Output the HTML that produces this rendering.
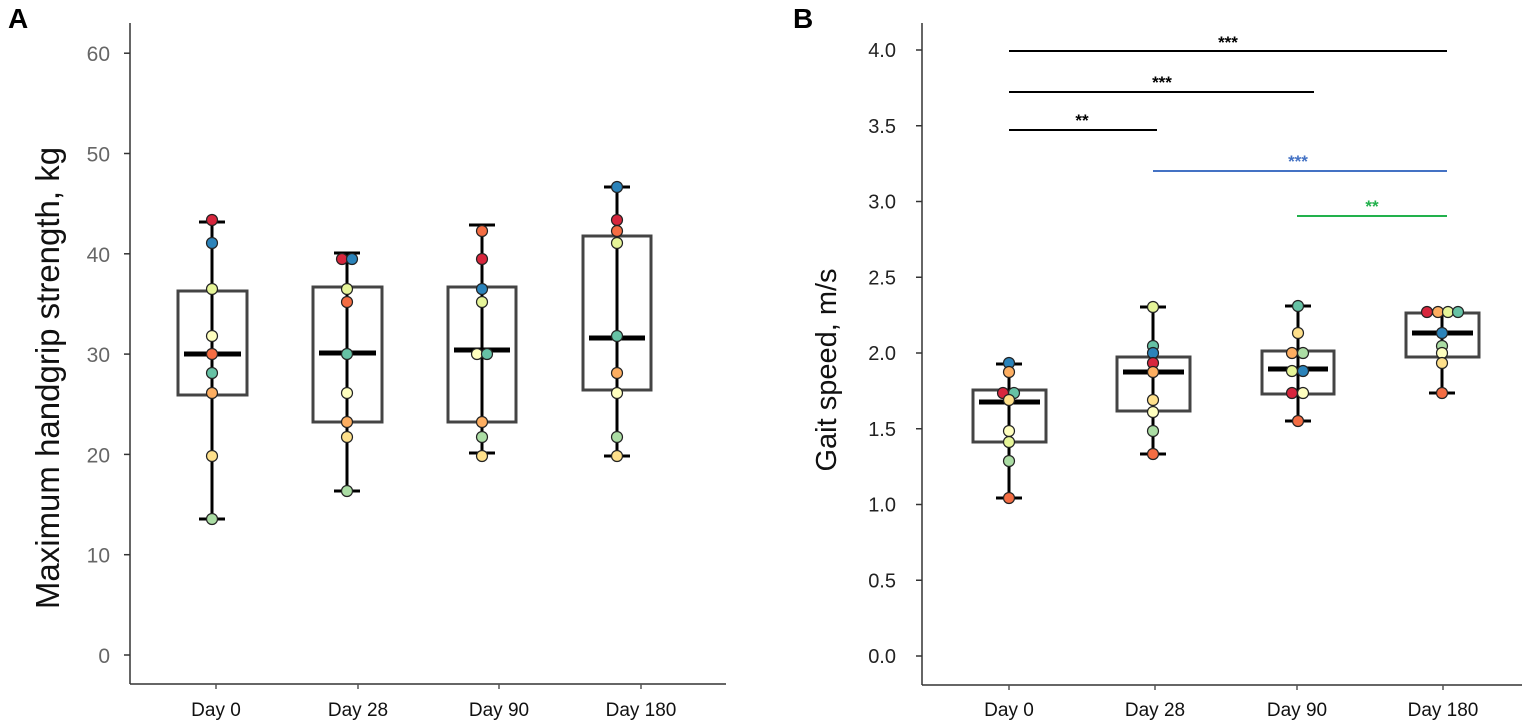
<!DOCTYPE html>
<html><head><meta charset="utf-8"><style>
html,body{margin:0;padding:0;background:#fff;}
svg{display:block;font-family:"Liberation Sans",Arial,sans-serif;}
</style></head><body>
<svg id="s" width="1535" height="728" viewBox="0 0 1535 728" xmlns="http://www.w3.org/2000/svg">
<rect width="1535" height="728" fill="#fff"/>
<text x="8" y="28" font-size="28" font-weight="bold">A</text>
<text x="793" y="28" font-size="28" font-weight="bold">B</text>
<g stroke="#333" stroke-width="1.5">
<line x1="130" y1="23" x2="130" y2="684"/>
<line x1="130" y1="684" x2="726" y2="684"/>
<line x1="922" y1="23" x2="922" y2="685"/>
<line x1="922" y1="685" x2="1522" y2="685"/>
</g>
<g id="a"></g>
<text transform="translate(59,378) rotate(-90)" text-anchor="middle" font-size="33" fill="#111">Maximum handgrip strength, kg</text>
<text transform="translate(836,370) rotate(-90)" text-anchor="middle" font-size="29" fill="#111">Gait speed, m/s</text>
<g stroke-width="2">
<line x1="1009" y1="51" x2="1447" y2="51" stroke="#000"/>
<line x1="1009" y1="92" x2="1314" y2="92" stroke="#000"/>
<line x1="1009" y1="130" x2="1157" y2="130" stroke="#000"/>
<line x1="1153" y1="171" x2="1447" y2="171" stroke="#4472c4"/>
<line x1="1297" y1="216" x2="1447" y2="216" stroke="#22b14c"/>
</g>
<g font-size="17" text-anchor="middle" font-weight="bold">
<text x="1228" y="48">***</text>
<text x="1162" y="88">***</text>
<text x="1082" y="126">**</text>
<text x="1298" y="167" fill="#4472c4">***</text>
<text x="1372" y="212" fill="#22b14c">**</text>
</g>
</svg>
<script>
const g=document.getElementById('a');const NS="http://www.w3.org/2000/svg";
function el(t,a,txt){const e=document.createElementNS(NS,t);for(const k in a)e.setAttribute(k,a[k]);if(txt!==undefined)e.textContent=txt;g.appendChild(e);return e;}
const C={r:"#d7263d",b:"#2b83ba",o:"#f46d43",a:"#fdae61",y:"#fee08b",l:"#ffffbf",g:"#e6f598",n:"#abdda4",t:"#66c2a5"};
for(let i=0;i<=6;i++){const y=655-i*100.3;el('line',{x1:124,y1:y,x2:130,y2:y,stroke:'#333','stroke-width':1.5});el('text',{x:110,y:y+8,'text-anchor':'end','font-size':21,fill:'#666'},String(i*10));}
const ticksB=["0.0","0.5","1.0","1.5","2.0","2.5","3.0","3.5","4.0"];
for(let i=0;i<9;i++){const y=656-i*75.75;el('line',{x1:916,y1:y,x2:922,y2:y,stroke:'#333','stroke-width':1.5});el('text',{x:896,y:y+7,'text-anchor':'end','font-size':20,fill:'#222'},ticksB[i]);}
const xl=[[216,358,499,641],[1009,1155,1297,1443]];const ay=[684,685];
const lab=["Day 0","Day 28","Day 90","Day 180"];
xl.forEach((xs,p)=>xs.forEach((x,i)=>{el('line',{x1:x,y1:ay[p],x2:x,y2:ay[p]+5,stroke:'#555','stroke-width':1.5});el('text',{x:x,y:716,'text-anchor':'middle','font-size':19,fill:'#111'},lab[i]);}));
const B=[
[212,178,247,291,395,354,222,519,[[212,220,'r'],[212,243,'b'],[212,289,'g'],[212,336,'l'],[212,354,'o'],[212,373,'t'],[212,393,'a'],[212,456,'y'],[212,519,'n']]],
[347,313,382,287,422,353,253,491,[[342,259,'r'],[352,259,'b'],[347,289,'g'],[347,302,'o'],[347,354,'t'],[347,393,'l'],[347,422,'a'],[347,437,'y'],[347,491,'n']]],
[482,448,516,287,422,350,225,453,[[482,231,'o'],[482,259,'r'],[482,289,'b'],[482,302,'g'],[477,354,'l'],[487,354,'t'],[482,422,'a'],[482,437,'n'],[482,456,'y']]],
[617,583,651,236,390,338,187,456,[[617,187,'b'],[617,220,'r'],[617,231,'o'],[617,243,'g'],[617,336,'t'],[617,373,'a'],[617,393,'l'],[617,437,'n'],[617,456,'y']]],
[1009,973,1046,390,442,402,364,498,[[1009,363,'b'],[1009,372,'a'],[1003,393,'r'],[1014,393,'t'],[1009,400,'y'],[1009,431,'l'],[1009,442,'g'],[1009,461,'n'],[1009,498,'o']]],
[1153,1117,1190,357,411,372,307,454,[[1153,307,'g'],[1153,346,'t'],[1153,353,'b'],[1153,363,'r'],[1153,372,'a'],[1153,400,'y'],[1153,412,'l'],[1153,431,'n'],[1153,454,'o']]],
[1298,1262,1334,351,394,369,306,421,[[1298,306,'t'],[1298,333,'y'],[1292,353,'a'],[1303,353,'n'],[1292,371,'g'],[1303,371,'b'],[1292,393,'r'],[1303,393,'l'],[1298,421,'o']]],
[1442,1406,1479,313,357,333,313,393,[[1427,312,'r'],[1438,312,'a'],[1448,312,'g'],[1458,312,'t'],[1442,333,'b'],[1442,346,'n'],[1442,353,'l'],[1442,363,'y'],[1442,393,'o']]]
];
B.forEach(b=>{const [cx,x0,x1,t,bo,m,wt,wb,pts]=b;
el('rect',{x:x0,y:t,width:x1-x0,height:bo-t,fill:'none',stroke:'#444','stroke-width':3});
el('line',{x1:cx,y1:wt,x2:cx,y2:wb,stroke:'#000','stroke-width':3});
el('line',{x1:cx-13,y1:wt,x2:cx+13,y2:wt,stroke:'#000','stroke-width':3});
el('line',{x1:cx-13,y1:wb,x2:cx+13,y2:wb,stroke:'#000','stroke-width':3});
el('line',{x1:x0+6,y1:m,x2:x1-6,y2:m,stroke:'#000','stroke-width':5});
pts.forEach(p=>el('circle',{cx:p[0],cy:p[1],r:5.5,fill:C[p[2]],stroke:'#222','stroke-width':1.2}));
});
</script>
</body></html>
